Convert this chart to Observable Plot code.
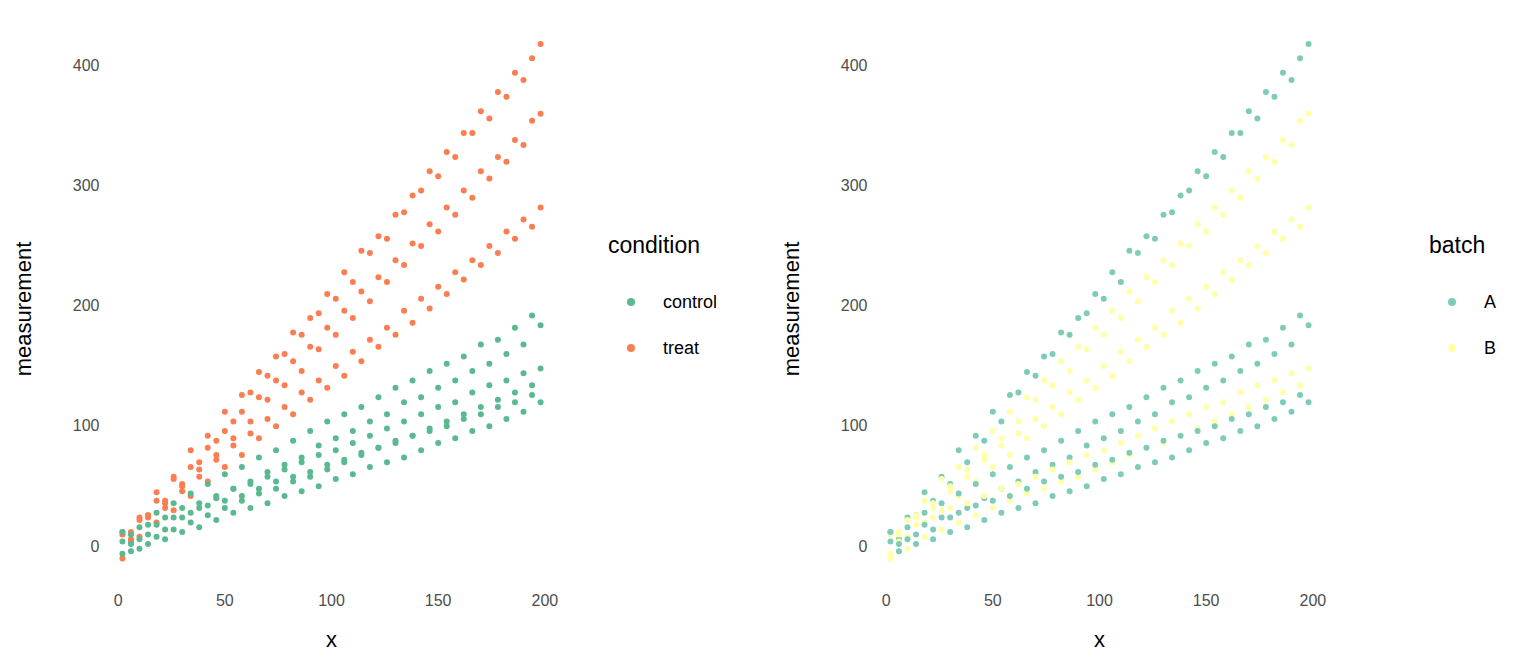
<!DOCTYPE html>
<html>
<head>
<meta charset="utf-8">
<script src="https://cdn.jsdelivr.net/npm/d3@7"></script>
<script src="https://cdn.jsdelivr.net/npm/@observablehq/plot@0.6"></script>
<style>
  body { margin: 0; background: #fff; font-family: "Liberation Sans", Arial, sans-serif; }
  #wrap { display: flex; }
  .panel { display: flex; width: 768px; }
  .legend { padding-top: 232px; }
  .legend .title { font-size: 23px; margin-bottom: 20px; }
  .legend .item { display: flex; align-items: center; font-size: 18px; height: 46px; }
  .legend .dot { width: 8px; height: 8px; border-radius: 50%; margin: 0 28px 0 19px; }
</style>
</head>
<body>
<div id="wrap"></div>
<script>
// x positions shared by all six series
const xs = [2,6,10,14,18,22,26,30,34,38,42,46,50,54,58,62,66,70,74,78,82,86,90,94,98,102,106,110,114,118,122,126,130,134,138,142,146,150,154,158,162,166,170,174,178,182,186,190,194,198]

// treat, batch A
const s1 = [12,6,24,26,45,38,58,52,80,70,92,88,112,104,126,128,145,142,158,160,178,176,190,194,210,206,228,220,246,244,258,256,276,278,292,296,312,308,328,324,344,344,362,356,378,374,394,388,406,418]
// treat, batch B
const s2 = [10,4,22,24,38,32,56,46,66,64,82,76,96,90,112,104,124,122,138,134,154,146,166,164,182,176,196,190,212,204,224,220,238,234,252,250,268,262,282,276,296,290,312,306,324,320,338,334,354,360]
// treat, batch B
const s3 = [-10,12,8,26,20,36,30,50,42,58,54,72,66,84,76,94,90,106,100,116,110,128,122,138,132,150,142,162,154,172,166,182,176,196,186,206,198,216,210,228,222,238,234,250,244,262,256,272,266,282]
// control, batch A
const s4 = [12,2,16,10,28,14,36,24,44,32,52,40,60,48,66,54,74,62,80,68,88,74,96,84,104,90,110,96,116,104,124,110,132,120,138,124,146,132,152,138,158,146,168,152,172,160,182,168,192,184]
// control, batch B
const s5 = [-6,10,-2,18,8,24,14,32,20,36,26,42,32,48,38,52,44,58,48,64,54,70,58,76,64,80,70,86,76,92,82,98,86,104,92,110,98,116,104,120,110,128,116,134,122,138,128,144,134,148]
// control, batch A
const s6 = [4,-4,6,2,18,6,24,12,28,16,34,22,38,28,42,32,48,36,54,42,58,46,62,50,68,56,72,60,78,66,82,70,88,74,92,80,96,86,100,90,106,96,110,100,116,106,120,112,126,120]

const xTicks = [0, 50, 100, 150, 200]
const yTicks = [0, 100, 200, 300, 400]

const series = [
  {ys: s1, condition: "treat", batch: "A"},
  {ys: s2, condition: "treat", batch: "B"},
  {ys: s3, condition: "treat", batch: "B"},
  {ys: s4, condition: "control", batch: "A"},
  {ys: s5, condition: "control", batch: "B"},
  {ys: s6, condition: "control", batch: "A"}
]
const data = series.flatMap(s => s.ys.map((y, i) => ({x: xs[i], y, condition: s.condition, batch: s.batch})))

function panel(key, domain, colors, pad) {
  const chart = Plot.plot({
    width: 600, height: 650,
    marginLeft: 107, marginRight: 45, marginTop: 29, marginBottom: 62,
    style: {fontFamily: "Liberation Sans, Arial, sans-serif"},
    x: {domain: [-5, 205]},
    y: {domain: [-35, 430]},
    color: {domain, range: colors},
    marks: [
      Plot.axisX({ticks: xTicks, tickSize: 0, fontSize: 16, color: "#4d4d4d", tickPadding: 6, label: null}),
      Plot.axisX({ticks: [], label: "x", labelAnchor: "center", labelArrow: "none", labelOffset: 58, fontSize: 22, color: "#000"}),
      Plot.axisY({ticks: yTicks, tickSize: 0, fontSize: 16, color: "#4d4d4d", tickPadding: 8, label: null}),
      Plot.axisY({ticks: [], label: "measurement", labelAnchor: "center", labelArrow: "none", labelOffset: 92, fontSize: 22, color: "#000"}),
      Plot.dot(data, {x: "x", y: "y", fill: key, r: 3})
    ]
  })
  const p = d3.select("#wrap").append("div").attr("class", "panel")
  p.append(() => chart)
  const lg = p.append("div").attr("class", "legend").style("padding-left", pad + "px")
  lg.append("div").attr("class", "title").text(key)
  domain.forEach((d, i) => {
    const it = lg.append("div").attr("class", "item")
    it.append("div").attr("class", "dot").style("background", colors[i])
    it.append("span").text(d)
  })
}

panel("condition", ["control", "treat"], ["#5ab98f", "#fb7d52"], 8)
panel("batch", ["A", "B"], ["#7fcbb9", "#ffffa8"], 61)
</script>
</body>
</html>
